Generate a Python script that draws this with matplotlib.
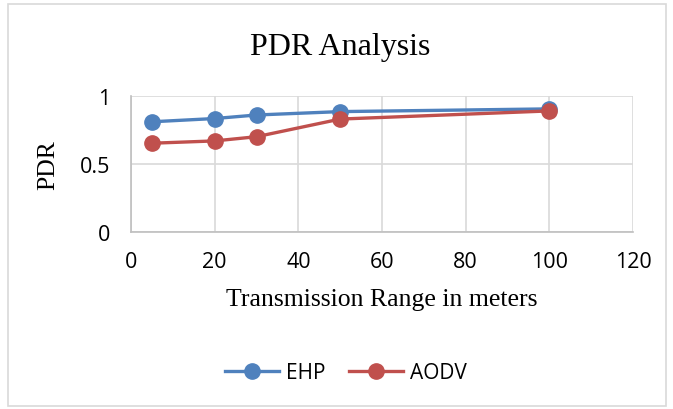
import matplotlib.pyplot as plt
from matplotlib.patches import Rectangle

x = [5, 20, 30, 50, 100]
ehp = [0.81, 0.834, 0.86, 0.885, 0.905]
aodv = [0.652, 0.669, 0.70, 0.83, 0.89]

W, H = 673, 410
fig = plt.figure(figsize=(W / 100, H / 100), dpi=100)
ax = fig.add_axes([131 / W, 1 - 232.7 / H, 502 / W, 135.7 / H])

ax.plot(x, ehp, color='#4F81BD', lw=2.4, marker='o', ms=11, label='EHP', zorder=3)
ax.plot(x, aodv, color='#C0504D', lw=2.4, marker='o', ms=11, label='AODV', zorder=3)

ax.set_xlim(0, 120)
ax.set_ylim(0, 1)
ax.set_xticks(range(0, 121, 20))
ax.set_yticks([0, 0.5, 1])
ax.set_yticklabels(['0', '0.5', '1'])
ax.grid(True, color='#d9d9d9', lw=1.2)
ax.set_axisbelow(True)
for s in ['top', 'right']:
    ax.spines[s].set_visible(False)
for s in ['left', 'bottom']:
    ax.spines[s].set_color('#bfbfbf')
    ax.spines[s].set_linewidth(1.2)
ax.tick_params(length=0, labelsize=15.5, colors='black')
ax.tick_params(axis='x', pad=14)
ax.tick_params(axis='y', pad=15)
for lbl in ax.get_xticklabels() + ax.get_yticklabels():
    lbl.set_family('Open Sans')

fig.text(340 / W, 1 - 47 / H, 'PDR Analysis', family='Liberation Serif', fontsize=23,
         ha='center', va='center')
fig.text(382 / W, 1 - 300 / H, 'Transmission Range in meters', family='Liberation Serif',
         fontsize=18.5, ha='center', va='center')
fig.text(48 / W, 1 - 165 / H, 'PDR', family='Liberation Serif', fontsize=18.5,
         ha='center', va='center', rotation=90)

leg = fig.legend(loc='center', bbox_to_anchor=(346 / W, 1 - 374 / H), ncol=2, frameon=False,
                 prop={'family': 'Open Sans', 'size': 15}, handlelength=2.6, columnspacing=1.1,
                 handletextpad=0.35)

fig.patches.append(Rectangle((8 / W, 3 / H), 658 / W, 402 / H, transform=fig.transFigure,
                             fill=False, edgecolor='#d9d9d9', lw=1.2))

fig.savefig('out.png', dpi=100)
